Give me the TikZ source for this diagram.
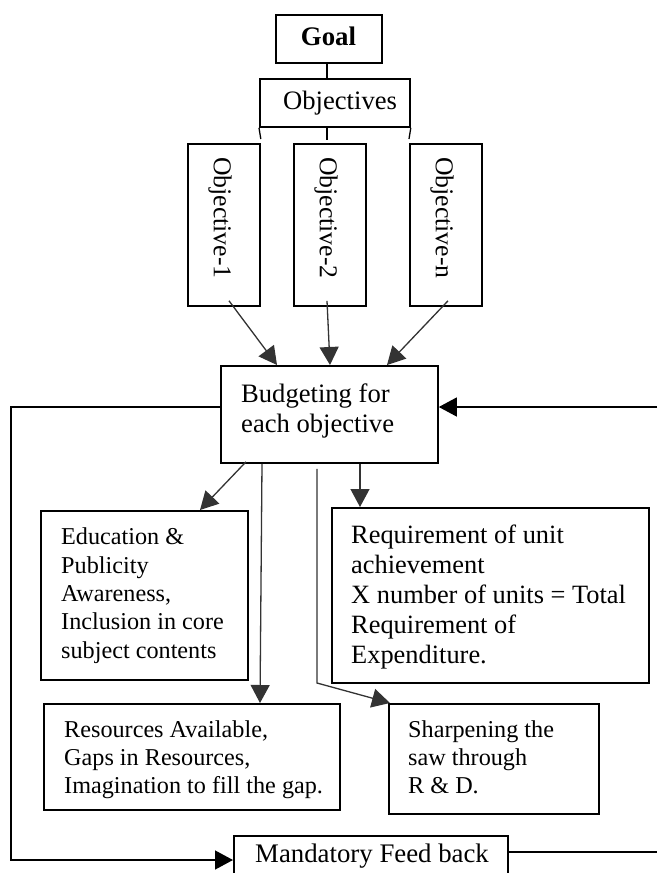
\documentclass[tikz,border=0pt]{standalone}
\usepackage{fontspec}
\setmainfont{Liberation Serif}
\usetikzlibrary{arrows.meta}
\definecolor{linegray}{HTML}{333333}
\begin{document}
\begin{tikzpicture}[x=1pt,y=-1pt,
  box/.style={draw=black, line width=1.8pt, inner sep=0pt, anchor=north west},
  txt/.style={inner sep=0pt, anchor=north west, align=left},
  conn/.style={draw=linegray, line width=1.3pt},
  arr/.style={conn, -{Triangle[length=18pt,width=19pt]}},
  big/.style={font=\fontsize{26.6pt}{30pt}\selectfont},
  small/.style={font=\fontsize{24.2pt}{28.35pt}\selectfont},
  vert/.style={inner sep=0pt, rotate=-90, anchor=west, font=\fontsize{25.7pt}{30pt}\selectfont},
]
\useasboundingbox (0,0) rectangle (657,873);
\clip (0,0) rectangle (657,873);

% boxes
\node[box, minimum width=106pt, minimum height=48pt] (goal) at (275,14) {};
\node[box, minimum width=150pt, minimum height=48pt] (objs) at (259,78) {};
\node[box, minimum width=72pt, minimum height=162pt] (obj1) at (187,143) {};
\node[box, minimum width=72pt, minimum height=162pt] (obj2) at (293,143) {};
\node[box, minimum width=72pt, minimum height=162pt] (objn) at (409,143) {};
\node[box, minimum width=217pt, minimum height=97pt] (budget) at (220,365) {};
\node[box, minimum width=207pt, minimum height=169pt] (edu) at (40,510) {};
\node[box, minimum width=317pt, minimum height=175pt] (req) at (331,507) {};
\node[box, minimum width=296pt, minimum height=106pt] (res) at (43,703) {};
\node[box, minimum width=210pt, minimum height=110pt] (sharp) at (388,703) {};
\node[box, minimum width=274pt, minimum height=60pt] (fb) at (233,835) {};

% texts
\node[inner sep=0pt, anchor=base, font=\fontsize{26.8pt}{30pt}\selectfont\bfseries] (goalt) at (328.5,45.7) {Goal};
\node[inner sep=0pt, anchor=base west, big] (objst) at (283,109) {Objectives};
\node[vert] (obj1t) at (220,157) {Objective-1};
\node[vert] (obj2t) at (326,157) {Objective-2};
\node[vert] (objnt) at (442,157) {Objective-n};
\node[txt, big] (budgett) at (241,383.4) {Budgeting for\\each objective};
\node[txt, small] (edut) at (61,527.7) {Education \&\\Publicity\\Awareness,\\Inclusion in core\\subject contents};
\node[txt, font=\fontsize{26.4pt}{30pt}\selectfont] (reqt) at (351,525.1) {Requirement of unit\\achievement\\X number of units = Total\\Requirement of\\Expenditure.};
\node[txt, small] (rest) at (64,720.1) {Resources Available,\\Gaps in Resources,\\Imagination to fill the gap.};
\node[txt, small] (sharpt) at (408,720.1) {Sharpening the\\saw through\\R \& D.};
\node[inner sep=0pt, anchor=base west, font=\fontsize{26.8pt}{30pt}\selectfont] (fbt) at (255,862.7) {Mandatory Feed back};

% tree lines
\draw[conn, draw=black] ([xshift=52pt]goal.south west) -- ([xshift=68pt]objs.north west);
\draw[conn, draw=black] (objs.south west) -- ([yshift=4pt]obj1.north east);
\draw[conn, draw=black] ([xshift=68pt]objs.south west) -- ([xshift=34pt,yshift=3pt]obj2.north west);
\draw[conn, draw=black] (objs.south east) -- ([yshift=4pt]objn.north west);

% objectives to budgeting
\draw[arr] ([xshift=42pt,yshift=6pt]obj1.south west) -- ([xshift=57pt]budget.north west);
\draw[arr] ([xshift=34pt,yshift=6pt]obj2.south west) -- ([xshift=110pt]budget.north west);
\draw[arr] ([xshift=39pt,yshift=6pt]objn.south west) -- ([xshift=167pt]budget.north west);

% budgeting outputs
\draw[arr] ([xshift=26pt,yshift=2pt]budget.south west) -- ([xshift=160pt]edu.north west);
\draw[arr] ([xshift=42pt]budget.south west) -- ([xshift=217pt]res.north west);
\coordinate (sbend) at (317,683);
\draw[arr] ([xshift=97pt,yshift=-5pt]budget.south west) -- (sbend) -- ([xshift=2pt]sharp.north west);
\draw[arr] ([xshift=140pt]budget.south west) -- ([xshift=29pt]req.north west);

% feedback loop
\coordinate (leftx) at (11,600);
\draw[arr, draw=black] ([yshift=-42pt]budget.north west) -| (leftx) |- ([yshift=-25pt]fb.north west);
\coordinate (rin) at (657,407);
\draw[arr, draw=black] (rin) -- ([yshift=-42pt]budget.north east);
\coordinate (rout) at (657,852);
\draw[conn, draw=black] ([yshift=-17pt]fb.north east) -- (rout);
\end{tikzpicture}
\end{document}
